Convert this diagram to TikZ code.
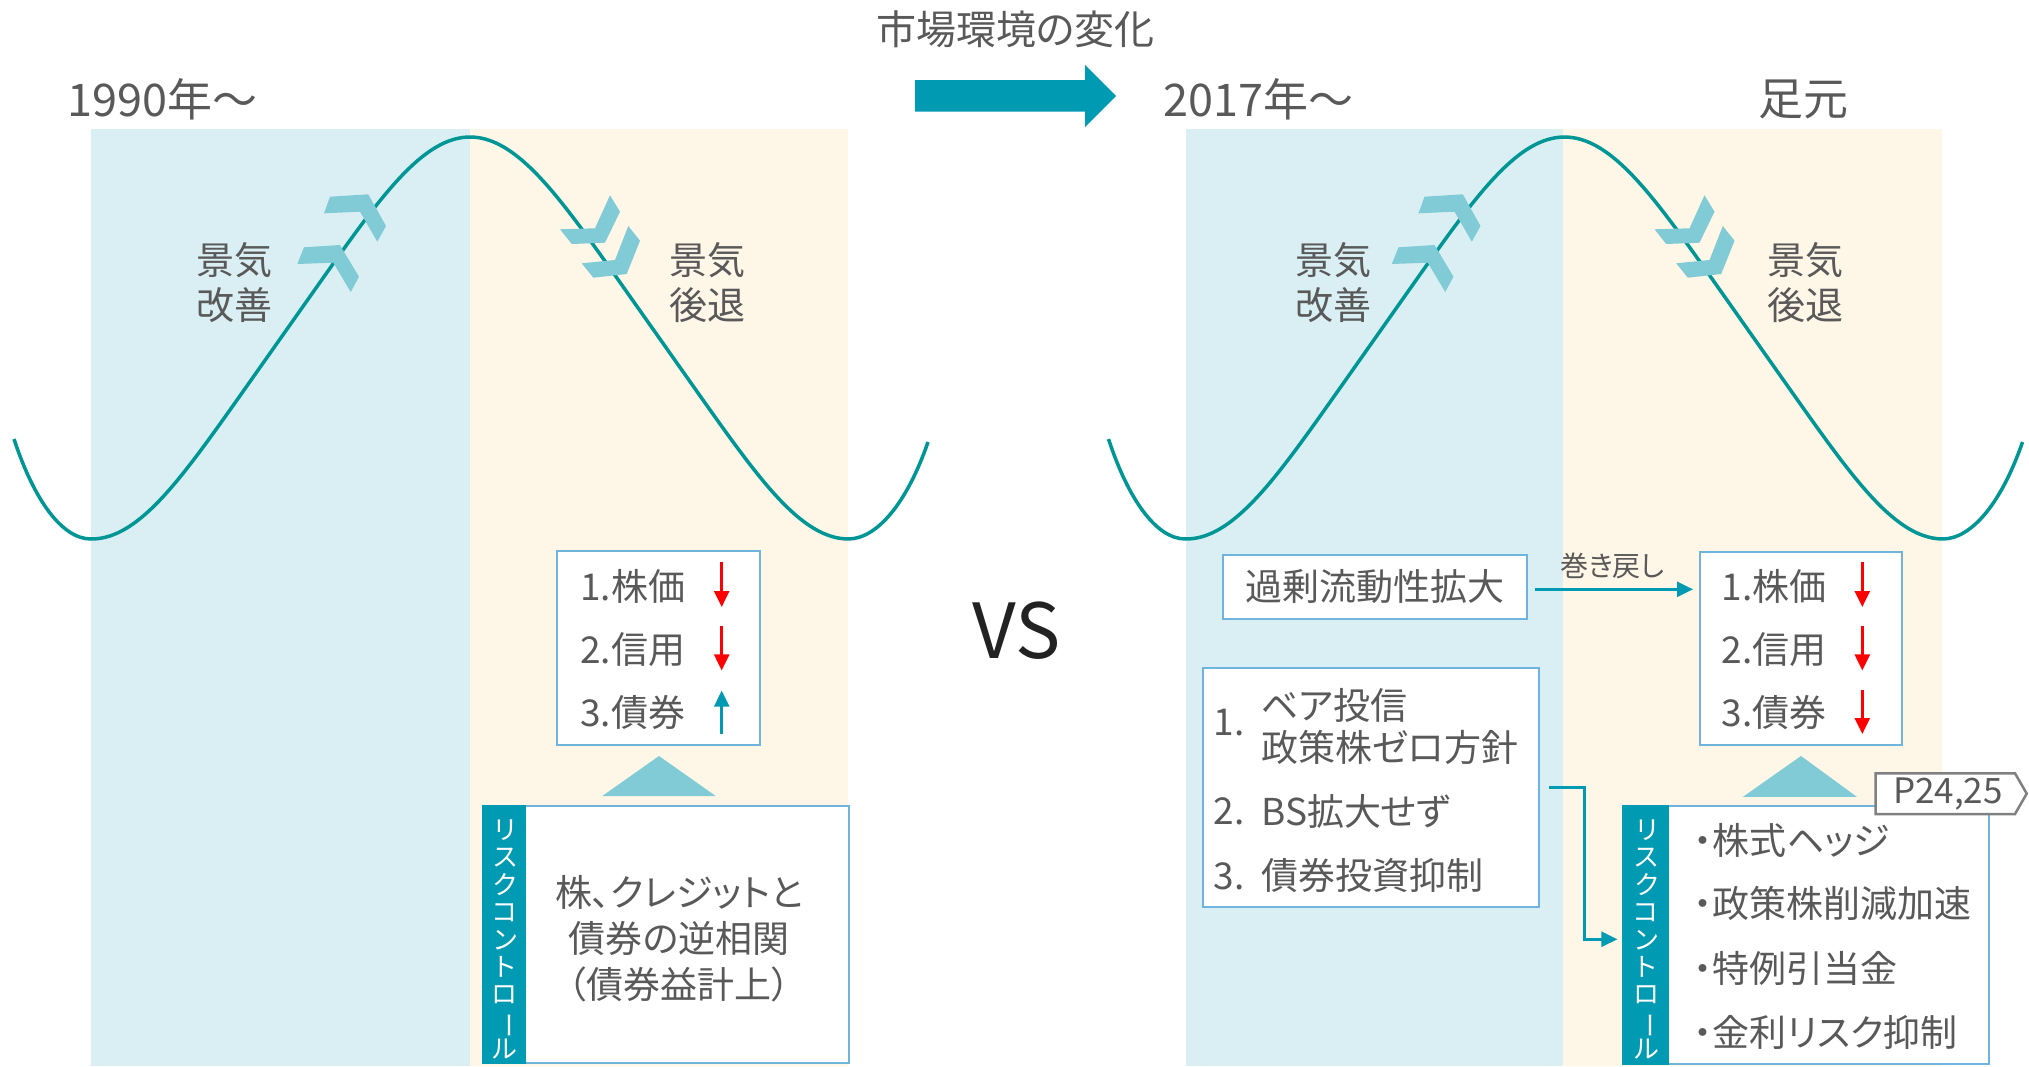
\documentclass[tikz,border=0pt]{standalone}
\usepackage{fontspec}
\setmainfont{Noto Sans CJK JP}[RawFeature=+palt]
\usepackage{graphicx}
\usetikzlibrary{arrows.meta,calc}
\definecolor{bgblue}{RGB}{218,239,243}
\definecolor{bgcream}{RGB}{254,246,231}
\definecolor{curvecol}{RGB}{0,150,150}
\definecolor{dteal}{RGB}{0,154,178}
\definecolor{chevcol}{RGB}{128,203,214}
\definecolor{boxblue}{RGB}{110,180,220}
\definecolor{tgray}{RGB}{89,89,89}
\definecolor{taggray}{RGB}{128,128,128}
\definecolor{vsblack}{RGB}{34,34,34}
\newcommand{\fsz}[1]{\fontsize{#1}{#1}\selectfont}
\begin{document}
\begin{tikzpicture}[x=1pt,y=-1pt,
  declare function={cc(\t)=cos(((\t-470)/757)*360);},
  txt/.style={inner sep=0pt, text=tgray},
  lbox/.style={draw=boxblue, line width=2pt, fill=white, inner sep=0pt},
  curve/.style={draw=curvecol, line width=3.5pt},
  chev/.style={fill=chevcol},
  redarr/.style={draw=red, line width=2.5pt, -{Triangle[length=16pt,width=15pt]}},
  uparr/.style={draw=dteal, line width=2.5pt, -{Triangle[length=16pt,width=15pt]}},
  tarr/.style={draw=dteal, line width=2.5pt, -{Triangle[length=16pt,width=15pt]}},
  vtext/.style={inner sep=0pt, text=white, align=center, font=\fontsize{26}{27.4}\selectfont}
]
\useasboundingbox (0,0) rectangle (2029,1066);
\fill[white] (0,0) rectangle (2029,1066);
% backgrounds
\fill[bgblue] (90.6,129) rectangle (470,1066);
\fill[bgcream] (470,129) rectangle (848,1066);
\fill[bgblue] (1185.7,129) rectangle (1563,1066);
\fill[bgcream] (1563,129) rectangle (1941.6,1066);
% curves and chevrons
\foreach \s in {0,1094.5}{
  \begin{scope}[xshift=\s pt]
  \draw[curve, line join=round] (14,439) .. controls (34,500) and (62,539) .. (91,539)
     -- plot[domain=91:848, samples=120, smooth]
        (\x, {338-201*(0.85*cc(\x)+0.15*cc(\x)*cc(\x)*cc(\x))})
     .. controls (877,539) and (907,503) .. (928,442);
  \fill[chev] (330,196.7) -- (368.3,194.3) -- (386,226) -- (377.3,241.7) -- (360,211.7) -- (324,213.3) -- cycle;
  \fill[chev] (304,247.3) -- (340,245) -- (359,276.7) -- (350.7,292) -- (333.3,262.7) -- (297.3,264) -- cycle;
  \fill[chev] (560,229.3) -- (595,228.3) -- (610,195.3) -- (620,211.7) -- (605,242.7) -- (571.7,244) -- cycle;
  \fill[chev] (581.7,263.3) -- (615,260) -- (628.3,226) -- (640,240.7) -- (626.7,274) -- (593.3,277.7) -- cycle;
  \end{scope}
}
% headers
\node[txt, anchor=west, font=\fsz{45}] (h1) at (67,99) {1990年～};
\node[txt, anchor=west, font=\fsz{45}] (h2) at (1163,99) {2017年～};
\node[txt, font=\fsz{45}] (h3) at (1803,99) {足元};
\node[txt, font=\fsz{40}] (title) at (1015.5,29) {市場環境の変化};
\fill[dteal] (915,80) -- (1085,80) -- (1085,65) -- (1116,96) -- (1085,127) -- (1085,111.7) -- (915,111.7) -- cycle;
\node[inner sep=0pt, text=vsblack, font=\fsz{76}] (vs) at (1016.8,630.5) {VS};
% phase labels
\node[txt, align=center, font=\fontsize{38}{45}\selectfont] (lup) at (234,282.5) {景気\\改善};
\node[txt, align=center, font=\fontsize{38}{45}\selectfont] (ldown) at (707.5,282.5) {景気\\後退};
\node[txt, align=center, font=\fontsize{38}{45}\selectfont] (rup) at (1333.6,282.5) {景気\\改善};
\node[txt, align=center, font=\fontsize{38}{45}\selectfont] (rdown) at (1805,282.5) {景気\\後退};
% ---------- left panel boxes
\node[lbox, minimum width=202.7pt, minimum height=194.4pt] (lres) at (658.65,647.8) {};
\node[txt, anchor=west, font=\fsz{37}] (lres1) at (580,586) {1.株価};
\node[txt, anchor=west, font=\fsz{37}] (lres2) at (580,650) {2.信用};
\node[txt, anchor=west, font=\fsz{37}] (lres3) at (580,713) {3.債券};
\draw[redarr] (721.7,561.8) -- (721.7,607);
\draw[redarr] (721.7,626) -- (721.7,670.4);
\draw[uparr] (721.7,734) -- (721.7,690.6);
\fill[chevcol] (602.3,796) -- (659,756) -- (715.7,796) -- cycle;
\node[lbox, minimum width=366.6pt, minimum height=257.5pt] (lrisk) at (666,934.25) {};
\fill[dteal] (lrisk.north west) rectangle ([xshift=44.6pt]lrisk.south west);
\node[vtext] (lvt) at (505,939.5) {リ\\ス\\ク\\コ\\ン\\ト\\ロ\\\rotatebox[origin=c]{-90}{ー}\\ル};
\node[txt, align=center, font=\fontsize{37}{46}\selectfont] (lrtext) at (679,939) {株、クレジットと\\債券の逆相関\\（債券益計上）};
% ---------- right panel boxes
\node[lbox, minimum width=303.2pt, minimum height=64.4pt] (surplus) at (1374.9,587) {};
\node[txt, font=\fsz{37}] (surplust) at (1374.9,587) {過剰流動性拡大};
\node[lbox, minimum width=201.7pt, minimum height=193.3pt] (rres) at (1800.85,648.35) {};
\node[txt, anchor=west, font=\fsz{37}] (rres1) at (1721.7,586) {1.株価};
\node[txt, anchor=west, font=\fsz{37}] (rres2) at (1721.7,650) {2.信用};
\node[txt, anchor=west, font=\fsz{37}] (rres3) at (1721.7,713) {3.債券};
\draw[redarr] (1862.3,561.8) -- (1862.3,607);
\draw[redarr] (1862.3,626) -- (1862.3,670.4);
\draw[redarr] (1862.3,690) -- (1862.3,734);
\node[txt, font=\fsz{28}] (rewind) at (1612.5,565.5) {巻き戻し};
\draw[tarr] ([xshift=7.5pt,yshift=-2.3pt]surplus.east) -- ([xshift=-6pt,yshift=-2.3pt]surplus.east -| rres.west);
\node[lbox, minimum width=336.6pt, minimum height=239.3pt] (bear) at (1371,787.65) {};
\node[txt, anchor=west, font=\fsz{37}] (b1n) at (1213.6,723) {1.};
\node[txt, anchor=west, font=\fsz{37}] (b1a) at (1261,705) {ベア投信};
\node[txt, anchor=west, font=\fsz{37}] (b1b) at (1261,747) {政策株ゼロ方針};
\node[txt, anchor=west, font=\fsz{37}] (b2n) at (1213.6,811.5) {2.};
\node[txt, anchor=west, font=\fsz{37}] (b2) at (1261,811.5) {BS拡大せず};
\node[txt, anchor=west, font=\fsz{37}] (b3n) at (1213.6,876) {3.};
\node[txt, anchor=west, font=\fsz{37}] (b3) at (1261,876) {債券投資抑制};
\fill[chevcol] (1743,796.8) -- (1801,756) -- (1856.8,796.8) -- cycle;
\node[lbox, minimum width=366.1pt, minimum height=258.5pt] (rrisk) at (1805.95,934.75) {};
\fill[dteal] (rrisk.north west) rectangle ([xshift=47.1pt]rrisk.south west);
\node[vtext] (rvt) at (1646.5,939.5) {リ\\ス\\ク\\コ\\ン\\ト\\ロ\\\rotatebox[origin=c]{-90}{ー}\\ル};
\node[txt, anchor=west, font=\fsz{37}] (ri1) at (1694,840) {・株式ヘッジ};
\node[txt, anchor=west, font=\fsz{37}] (ri2) at (1694,903.6) {・政策株削減加速};
\node[txt, anchor=west, font=\fsz{37}] (ri3) at (1694,968) {・特例引当金};
\node[txt, anchor=west, font=\fsz{37}] (ri4) at (1694,1032.6) {・金利リスク抑制};
\draw[tarr] ([xshift=9pt]bear.east) -- ++(35,0) |- ([xshift=-4.5pt,yshift=-4.5pt]rrisk.west);
% tag
\filldraw[fill=white, draw=taggray, line width=2.5pt] (1875.7,773.3) -- (2015,773.3) -- (2026.7,793.6) -- (2015,814) -- (1875.7,814) -- cycle;
\node[txt, font=\fsz{35}] (tag) at (1948,794) {P24,25};
\end{tikzpicture}
\end{document}
